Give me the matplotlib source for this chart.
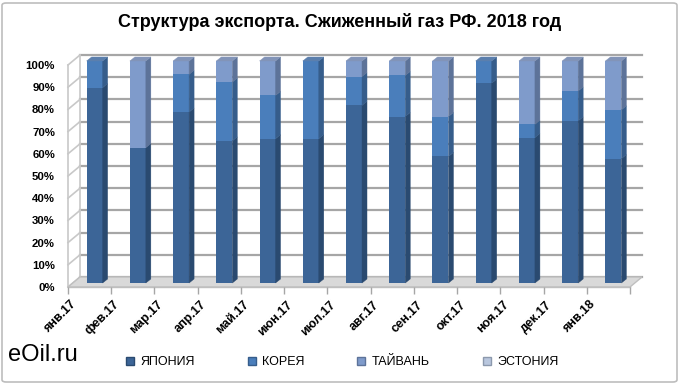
import numpy as np
import matplotlib
matplotlib.use("Agg")
import matplotlib.pyplot as plt
from matplotlib.patches import Polygon, FancyBboxPatch
from matplotlib.lines import Line2D
from matplotlib.transforms import ScaledTranslation

plt.rcParams['font.family'] = ['Liberation Sans', 'DejaVu Sans']

# data, % of monthly export
months = ["янв.17", "фев.17", "мар.17", "апр.17", "май.17", "июн.17", "июл.17",
          "авг.17", "сен.17", "окт.17", "ноя.17", "дек.17", "янв.18"]
japan = [88, 61, 77, 64, 65, 65, 80, 75, 57, 90, 65.5, 73, 56]
korea = [12, 0, 17, 26.5, 19.5, 35, 13, 18.5, 18, 10, 6, 13.5, 22]
taiwan = [0, 39, 6, 9.5, 15.5, 0, 7, 6.5, 25, 0, 28.5, 13.5, 22]
estonia = [0, 0, 0, 0, 0, 0, 0, 0, 0, 0, 0, 0, 0]
series = ["ЯПОНИЯ", "КОРЕЯ", "ТАЙВАНЬ", "ЭСТОНИЯ"]

front = ["#3c6597", "#4a7ebb", "#7f9bcb", "#b9c7de"]
side = ["#2a4a70", "#365d8b", "#5d7399", "#8c99ad"]
top = ["#4f6f98", "#5b7fad", "#8294b8", "#aab5c8"]

W, H = 680, 384
fig = plt.figure(figsize=(W / 100, H / 100), dpi=100)

# front plane of the 3d box in pixels
x0, x1, y0, y1 = 68, 630, 287, 65
ax = fig.add_axes([x0 / W, 1 - y0 / H, (x1 - x0) / W, (y0 - y1) / H])
n = len(months)
ax.set_xlim(-0.5, n - 0.5)
ax.set_ylim(0, 1)
for s in ax.spines.values():
    s.set_visible(False)

# pixel -> data helpers
def px(v):
    return v / (x1 - x0) * n

def py(v):
    return v / (y0 - y1)

# back wall depth and bar offset
bdx, bdy = px(12), py(10)
sdx, sdy = px(5), py(4)
ddx, ddy = px(5), py(4)

grid_c = "#a6a6a6"
# floor
ax.add_patch(Polygon([(-0.5, 0), (n - 0.5, 0), (n - 0.5 + bdx, bdy), (-0.5 + bdx, bdy)],
                     closed=True, fc="#d9d9d9", ec="#bfbfbf", lw=1, clip_on=False, zorder=1))
# back wall grid and left wall
for v in np.arange(0, 1.01, 0.1):
    ax.plot([-0.5 + bdx, n - 0.5 + bdx], [v + bdy, v + bdy], color=grid_c, lw=1.6,
            clip_on=False, zorder=0.5)
    ax.plot([-0.5, -0.5 + bdx], [v, v + bdy], color="#c8c8c8", lw=1.2, clip_on=False, zorder=0.5)
ax.plot([-0.5, -0.5], [0, 1], color="#c8c8c8", lw=1.2, clip_on=False, zorder=0.5)
ax.plot([-0.5 + bdx, -0.5 + bdx], [bdy, 1 + bdy], color="#c8c8c8", lw=1.2, clip_on=False, zorder=0.5)

# stacked bars
bw = 16 / 43.2
xs = np.arange(n)
vals = [np.array(japan) / 100, np.array(korea) / 100, np.array(taiwan) / 100, np.array(estonia) / 100]
bottom = np.zeros(n)
total = sum(vals)
for k, v in enumerate(vals):
    ax.bar(xs + sdx, v, bw, bottom=bottom + sdy, color=front[k], lw=0, zorder=3, clip_on=False)
    for i in range(n):
        if v[i] <= 0:
            continue
        xr = xs[i] + sdx + bw / 2
        xl = xs[i] + sdx - bw / 2
        b = bottom[i] + sdy
        t = b + v[i]
        ax.add_patch(Polygon([(xr, b), (xr + ddx, b + ddy), (xr + ddx, t + ddy), (xr, t)],
                             closed=True, fc=side[k], ec=side[k], lw=0.3, zorder=3, clip_on=False))
        if abs(bottom[i] + v[i] - total[i]) < 1e-9:
            ax.add_patch(Polygon([(xl, t), (xr, t), (xr + ddx, t + ddy), (xl + ddx, t + ddy)],
                                 closed=True, fc=top[k], ec=top[k], lw=0.3, zorder=3.5,
                                 clip_on=False))
    bottom = bottom + v

# axes ticks
ax.set_yticks(np.arange(0, 1.01, 0.1))
ax.set_yticklabels([f"{int(round(t * 100))}%" for t in np.arange(0, 1.01, 0.1)],
                   fontsize=8.2, fontweight="bold")
ax.tick_params(axis="y", length=0, pad=9.4)
ax.set_xticks(xs)
ax.set_xticklabels(months, rotation=45, ha="right", rotation_mode="anchor",
                   fontsize=9, fontweight="bold", va="center")
ax.set_xticks(np.arange(-0.5, n), minor=True)
ax.tick_params(axis="x", which="major", length=0, pad=0)
ax.tick_params(axis="x", which="minor", length=5, color="#a6a6a6", width=1)
off = ScaledTranslation(-15 / 100, -16 / 100, fig.dpi_scale_trans)
for lab in ax.get_xticklabels():
    lab.set_transform(lab.get_transform() + off)
ax.plot([-0.5, n - 0.5], [0, 0], color="#bfbfbf", lw=1, clip_on=False, zorder=1.5)

# title, watermark, legend
fig.text(0.5, 1 - 22 / H, "Структура экспорта. Сжиженный газ РФ. 2018 год",
         ha="center", va="center", fontsize=13, fontweight="bold")
fig.text(8 / W, 1 - 355 / H, "eOil.ru", ha="left", va="center", fontsize=17)
handles = [Line2D([], [], ls="", marker="s", markersize=6, mfc=front[k], mec=side[k])
           for k in range(4)]
fig.legend(handles, series, loc="center", bbox_to_anchor=(342 / W, 1 - 362 / H), ncol=4,
           frameon=False, handlelength=0.7, handletextpad=0.5, columnspacing=4.2,
           prop={"size": 9})

fig.patches.append(FancyBboxPatch((2 / W, 2 / H), 1 - 5 / W, 1 - 5 / H,
                                  boxstyle="round,pad=0,rounding_size=0.006",
                                  transform=fig.transFigure, fill=False, ec="#bdbdbd", lw=1.2))

fig.savefig("out.png", dpi=100)
